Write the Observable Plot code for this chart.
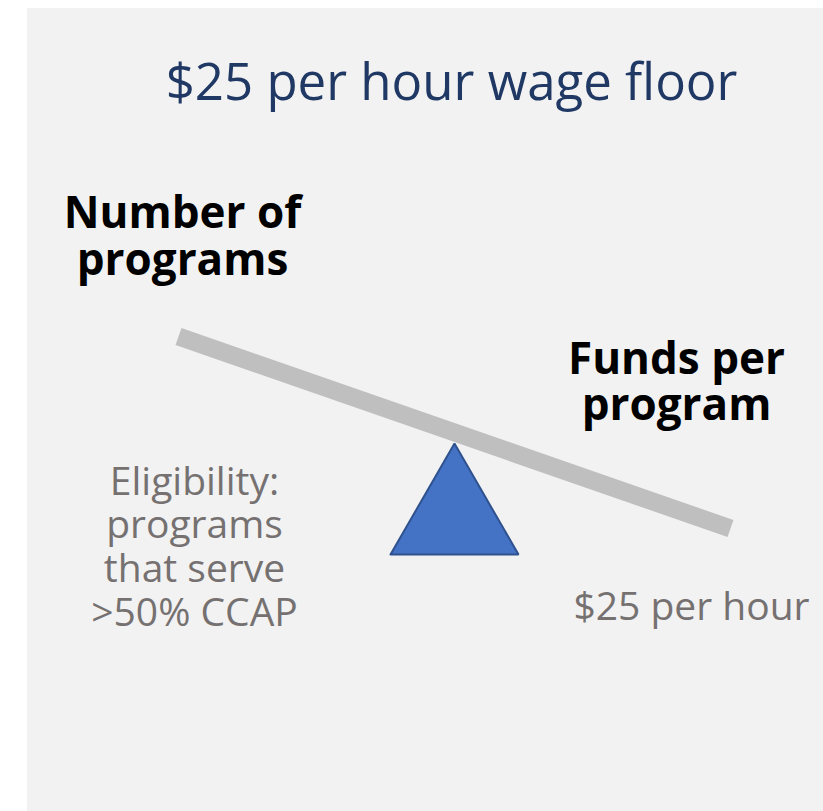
<!DOCTYPE html>
<html>
<head>
<meta charset="utf-8">
<script src="https://cdn.jsdelivr.net/npm/d3@7"></script>
<script src="https://cdn.jsdelivr.net/npm/@observablehq/plot@0.6"></script>
<style>
  html, body { margin: 0; padding: 0; background: #ffffff; }
  #chart svg { display: block; }
</style>
</head>
<body>
<div id="chart"></div>
<script>
// Diagram geometry (seesaw) in page units
const panelX = [27, 823];
const panelY = [8, 811];
const beamX = [178, 730];
const beamY = [336, 528];
const fulcrumX = [390, 454, 518, 390];
const fulcrumY = [554, 443, 554, 554];

// Text labels
const titleText = ["$25 per hour wage floor"];
const titleX = [451];
const titleY = [99];

const boldText = ["Number of", "programs", "Funds per", "program"];
const boldX = [182, 182, 676, 676];
const boldY = [227, 274, 373, 419];

const grayText = ["Eligibility:", "programs", "that serve", ">50% CCAP", "$25 per hour"];
const grayX = [194, 194, 194, 194, 691];
const grayY = [494, 537, 581, 625, 619];

const zip = (xs, ys, ts) => xs.map((x, i) => ({x, y: ys[i], t: ts ? ts[i] : null}));

const font = "'Open Sans', sans-serif";

const chart = Plot.plot({
  width: 823,
  height: 811,
  margin: 0,
  x: {domain: [0, 823], range: [0, 823], axis: null},
  y: {domain: [0, 811], range: [0, 811], axis: null},
  style: {background: "#ffffff", fontFamily: font},
  marks: [
    Plot.rect([{x1: panelX[0], x2: panelX[1], y1: panelY[0], y2: panelY[1]}],
      {x1: "x1", x2: "x2", y1: "y1", y2: "y2", fill: "#f2f2f2"}),
    Plot.line(zip(beamX, beamY), {x: "x", y: "y", stroke: "#bfbfbf", strokeWidth: 18, strokeLinecap: "butt"}),
    Plot.line(zip(fulcrumX, fulcrumY), {x: "x", y: "y", fill: "#4472c4", stroke: "#2f528f", strokeWidth: 2, strokeLinejoin: "miter"}),
    Plot.text(zip(titleX, titleY, titleText), {x: "x", y: "y", text: "t", lineAnchor: "bottom", fontSize: 51, fill: "#203864", fontFamily: font}),
    Plot.text(zip(boldX, boldY, boldText), {x: "x", y: "y", text: "t", lineAnchor: "bottom", fontSize: 44, fontWeight: 700, fill: "#000000", fontFamily: font}),
    Plot.text(zip(grayX, grayY, grayText), {x: "x", y: "y", text: "t", lineAnchor: "bottom", fontSize: 39, fill: "#767171", fontFamily: font})
  ]
});
document.getElementById("chart").appendChild(chart);
</script>
</body>
</html>
